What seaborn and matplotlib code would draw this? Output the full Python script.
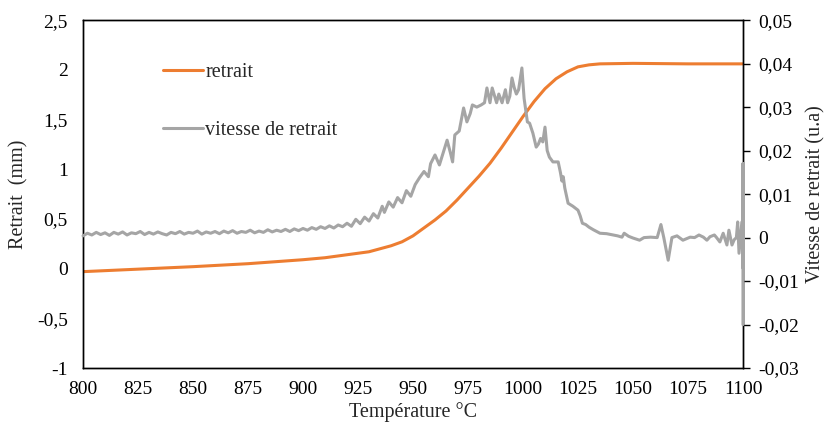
import matplotlib
matplotlib.use("Agg")
import matplotlib.pyplot as plt
from matplotlib.ticker import FuncFormatter, MultipleLocator
import seaborn as sns
import pandas as pd

# Shrinkage (mm) versus temperature
temp_retrait = [800, 825, 850, 875, 900, 910, 920, 930, 935, 940, 945, 950, 955, 960,
                965, 970, 975, 980, 985, 990, 995, 1000, 1005, 1010, 1015, 1020, 1025,
                1030, 1035, 1050, 1075, 1100]
retrait = [-0.03, -0.005, 0.02, 0.05, 0.09, 0.11, 0.14, 0.17, 0.20, 0.23, 0.27, 0.33,
           0.41, 0.49, 0.58, 0.69, 0.81, 0.93, 1.06, 1.21, 1.37, 1.53, 1.68, 1.81, 1.91,
           1.98, 2.03, 2.05, 2.06, 2.065, 2.06, 2.06]

# Shrinkage rate (a.u.) versus temperature
temp_vitesse = [800, 802, 804, 806, 808, 810, 812, 814, 816, 818, 820, 822, 824, 826, 828,
                830, 832, 834, 836, 838, 840, 842, 844, 846, 848, 850, 852, 854, 856, 858,
                860, 862, 864, 866, 868, 870, 872, 874, 876, 878, 880, 882, 884, 886, 888,
                890, 892, 894, 896, 898, 900, 902, 904, 906, 908, 910, 912, 914, 916, 918,
                920, 922, 924, 926, 928, 930, 932, 934, 936, 937, 939, 941, 943, 945, 947,
                949, 951, 953, 955, 957, 958, 960, 962, 964, 965.5, 967, 968, 969, 971, 973,
                974.5, 976, 977, 979, 981, 982.5, 983.6, 985, 986, 988, 989, 990.5, 992, 993,
                994, 995, 996, 997, 998, 999.5, 1000.5, 1002, 1003, 1004.5, 1006, 1007, 1008,
                1009, 1010, 1011, 1012, 1013.6, 1016, 1017, 1017.7, 1018.3, 1019, 1020.5,
                1022.7, 1025, 1026, 1027, 1028.5, 1030, 1032, 1035, 1038, 1041, 1043, 1045,
                1046, 1048, 1050, 1053, 1055, 1058, 1061, 1062.7, 1064, 1066, 1067.7, 1070,
                1072.7, 1076, 1078, 1080, 1082, 1083.6, 1085, 1087, 1088, 1089.5, 1091,
                1092.7, 1093.6, 1095, 1096, 1097, 1097.6, 1098.2, 1099.5, 1100, 1100, 1100]
vitesse = [0.0004, 0.0010, 0.0006, 0.0012, 0.0007, 0.0011, 0.0005, 0.0012, 0.0008, 0.0013,
           0.0006, 0.0011, 0.0009, 0.0014, 0.0007, 0.0012, 0.0008, 0.0013, 0.0009, 0.0006,
           0.0012, 0.0009, 0.0014, 0.0008, 0.0012, 0.0010, 0.0015, 0.0008, 0.0013, 0.0010,
           0.0014, 0.0009, 0.0015, 0.0011, 0.0016, 0.0010, 0.0014, 0.0012, 0.0017, 0.0011,
           0.0015, 0.0012, 0.0018, 0.0013, 0.0017, 0.0014, 0.0019, 0.0014, 0.0020, 0.0016,
           0.0021, 0.0017, 0.0023, 0.0019, 0.0025, 0.0021, 0.0027, 0.0022, 0.0029, 0.0025,
           0.0033, 0.0026, 0.0042, 0.0032, 0.0047, 0.0038, 0.0055, 0.0045, 0.0072, 0.0058,
           0.0082, 0.0070, 0.0092, 0.0080, 0.0108, 0.0095, 0.0122, 0.0138, 0.0152, 0.0140,
           0.0170, 0.0190, 0.0167, 0.0200, 0.0224, 0.0195, 0.0174, 0.0236, 0.0245, 0.0298,
           0.0266, 0.0285, 0.0305, 0.0300, 0.0305, 0.0310, 0.0344, 0.0310, 0.0344, 0.0310,
           0.0330, 0.0310, 0.0340, 0.0310, 0.0325, 0.0367, 0.0345, 0.0330, 0.0340, 0.0390,
           0.0320, 0.0266, 0.0263, 0.0240, 0.0208, 0.0215, 0.0228, 0.0220, 0.0254, 0.0200,
           0.0185, 0.0174, 0.0174, 0.0150, 0.0130, 0.0140, 0.0114, 0.0079, 0.0072, 0.0063,
           0.0050, 0.0033, 0.0030, 0.0024, 0.0018, 0.0010, 0.0009, 0.0006, 0.0004, 0.0001,
           0.0010, 0.0003, -0.0001, -0.0006, 0.0000, 0.0001, 0.0000, 0.0030, 0.0000, -0.0052,
           0.0000, 0.0004, -0.0006, 0.0001, 0.0000, 0.0006, 0.0001, -0.0006, 0.0002, 0.0006,
           0.0000, -0.0010, 0.0010, -0.0017, 0.0017, -0.0017, -0.0005, 0.0000, 0.0036,
           -0.0036, 0.0036, -0.0070, 0.0170, -0.0200]

ORANGE = "#ED7D31"
GREY = "#A5A5A5"
FONT = ["Liberation Serif", "DejaVu Serif"]
FS = 14.5
TICK_FS = 14

sns.set_theme(style="white")
plt.rcParams["font.family"] = FONT
plt.rcParams["font.size"] = FS

df_r = pd.DataFrame({"T": temp_retrait, "v": retrait})
df_v = pd.DataFrame({"T": temp_vitesse, "v": vitesse})

fig = plt.figure(figsize=(8.27, 4.28), dpi=100)
ax = fig.add_axes([0.1004, 0.140, 0.798, 0.813])
ax2 = ax.twinx()

sns.lineplot(data=df_r, x="T", y="v", ax=ax, color=ORANGE, linewidth=2.2,
             estimator=None, sort=False, label="retrait", legend=False)
sns.lineplot(data=df_v, x="T", y="v", ax=ax2, color=GREY, linewidth=2.2,
             estimator=None, sort=False, label="vitesse de retrait", legend=False,
             clip_on=False, zorder=3)

ax.set_xlim(800, 1100)
ax.set_ylim(-1, 2.5)
ax2.set_ylim(-0.03, 0.05)
ax.xaxis.set_major_locator(MultipleLocator(25))
ax.yaxis.set_major_locator(MultipleLocator(0.5))
ax2.yaxis.set_major_locator(MultipleLocator(0.01))


def comma(fmt):
    def f(v, pos):
        if abs(v) < 1e-9:
            return "0"
        s = fmt.format(v).rstrip("0").rstrip(".")
        return s.replace(".", ",")
    return FuncFormatter(f)


ax.yaxis.set_major_formatter(comma("{:.2f}"))
ax2.yaxis.set_major_formatter(comma("{:.3f}"))
ax.xaxis.set_major_formatter(FuncFormatter(lambda v, p: f"{int(round(v))}"))

ax.tick_params(axis="x", length=0, pad=9, labelsize=TICK_FS, colors="#000000")
ax.tick_params(axis="y", length=0, pad=11, labelsize=TICK_FS, colors="#000000")
ax2.tick_params(axis="y", length=5, width=1, direction="out", pad=6, labelsize=TICK_FS,
                colors="#000000")

for a in (ax, ax2):
    for s in a.spines.values():
        s.set_color("#000000")
        s.set_linewidth(1.0)
        s.set_visible(True)

ax.set_xlabel("Température °C", fontsize=FS, labelpad=3)
ax.set_ylabel("Retrait  (mm)", fontsize=FS, labelpad=6)
ax2.set_ylabel("Vitesse de retrait (u.a)", fontsize=FS, labelpad=5)

h1, l1 = ax.get_legend_handles_labels()
h2, l2 = ax2.get_legend_handles_labels()
fig.legend(h1 + h2, l1 + l2, loc="upper left", bbox_to_anchor=(0.197, 0.853),
           frameon=False, fontsize=FS, handlelength=2.0, handletextpad=0.1,
           labelspacing=1.95, borderpad=0, borderaxespad=0)

fig.savefig("out.png", dpi=100)
